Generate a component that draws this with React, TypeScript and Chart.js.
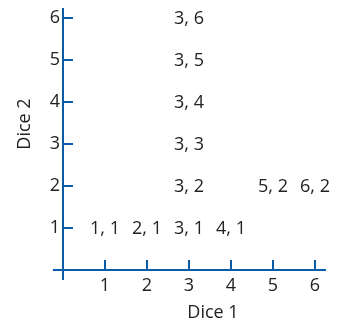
import { useEffect, useRef } from 'react';
import { Chart, registerables } from 'chart.js';

Chart.register(...registerables);

// Data: outcome pairs (Dice 1, Dice 2)
const dice1Values = [1, 2, 3, 4, 3, 3, 3, 3, 3, 5, 6];
const dice2Values = [1, 1, 1, 1, 2, 3, 4, 5, 6, 2, 2];
const xTickValues = [1, 2, 3, 4, 5, 6];
const yTickValues = [1, 2, 3, 4, 5, 6];
const xTitle = 'Dice 1';
const yTitle = 'Dice 2';

const BLUE = '#0b5ca8';
const TEXT = '#222222';
const FONT = '"Open Sans", sans-serif';
const FONT_SIZE = 18;

const X_MAX = 263 / 42;
const Y_MAX = 262 / 42;

const axesPlugin = {
  id: 'diceAxes',
  afterDraw(chart: any) {
    const ctx = chart.ctx as CanvasRenderingContext2D;
    const xs = chart.scales.x;
    const ys = chart.scales.y;
    const x0 = xs.getPixelForValue(0);
    const y0 = ys.getPixelForValue(0);
    ctx.save();
    ctx.strokeStyle = BLUE;
    ctx.lineWidth = 2;
    ctx.beginPath();
    // y axis line (extends a bit below the x axis)
    ctx.moveTo(x0, ys.getPixelForValue(Y_MAX));
    ctx.lineTo(x0, ys.getPixelForValue(-0.24));
    // x axis line (extends a bit left of the y axis)
    ctx.moveTo(xs.getPixelForValue(-0.24), y0);
    ctx.lineTo(xs.getPixelForValue(X_MAX), y0);
    yTickValues.forEach((v) => {
      const y = ys.getPixelForValue(v);
      ctx.moveTo(x0, y);
      ctx.lineTo(x0 + 10, y);
    });
    xTickValues.forEach((v) => {
      const x = xs.getPixelForValue(v);
      ctx.moveTo(x, y0);
      ctx.lineTo(x, y0 - 10);
    });
    ctx.stroke();

    // point labels
    ctx.fillStyle = TEXT;
    ctx.font = `${FONT_SIZE}px ${FONT}`;
    ctx.textAlign = 'center';
    ctx.textBaseline = 'middle';
    const meta = chart.getDatasetMeta(0);
    meta.data.forEach((pt: any, i: number) => {
      const label = `${dice1Values[i]}, ${dice2Values[i]}`;
      ctx.fillText(label, pt.x, pt.y + 1);
    });

    // axis titles
    ctx.fillText(xTitle, xs.getPixelForValue(3.5) + 3, chart.height - 7);
    ctx.save();
    ctx.translate(17, ys.getPixelForValue(3.5) + 1);
    ctx.rotate(-Math.PI / 2);
    ctx.fillText(yTitle, 0, 0);
    ctx.restore();
    ctx.restore();
  },
};

export default function App() {
  const ref = useRef<HTMLCanvasElement | null>(null);
  useEffect(() => {
    if (!ref.current) return;
    const chart = new Chart(ref.current, {
      type: 'scatter',
      data: {
        datasets: [
          {
            data: dice1Values.map((x, i) => ({ x, y: dice2Values[i] })),
            pointRadius: 0,
            pointHoverRadius: 0,
            showLine: false,
          },
        ],
      },
      options: {
        animation: false,
        responsive: true,
        maintainAspectRatio: false,
        layout: { padding: { left: 0, right: 4, top: 0, bottom: 0 } },
        plugins: { legend: { display: false }, tooltip: { enabled: false } },
        scales: {
          x: {
            type: 'linear',
            min: 0,
            max: X_MAX,
            grid: { display: false, drawTicks: false },
            border: { display: false },
            ticks: {
              color: TEXT,
              padding: 5,
              font: { family: FONT, size: FONT_SIZE },
              maxRotation: 0,
            },
            afterBuildTicks: (s: any) => {
              s.ticks = xTickValues.map((v) => ({ value: v }));
            },
            afterFit: (s: any) => {
              s.height = 50;
              s.paddingLeft = 0;
              s.paddingRight = 0;
            },
          },
          y: {
            type: 'linear',
            min: 0,
            max: Y_MAX,
            grid: { display: false, drawTicks: false },
            border: { display: false },
            ticks: {
              color: TEXT,
              padding: 3,
              font: { family: FONT, size: FONT_SIZE },
            },
            afterBuildTicks: (s: any) => {
              s.ticks = yTickValues.map((v) => ({ value: v }));
            },
            afterFit: (s: any) => {
              s.width = 55;
              s.paddingTop = 0;
              s.paddingBottom = 0;
            },
          },
        },
      },
      plugins: [axesPlugin],
    });
    return () => chart.destroy();
  }, []);
  return (
    <div style={{ width: '322px', height: '312px', position: 'relative' }}>
      <canvas ref={ref} />
    </div>
  );
}
